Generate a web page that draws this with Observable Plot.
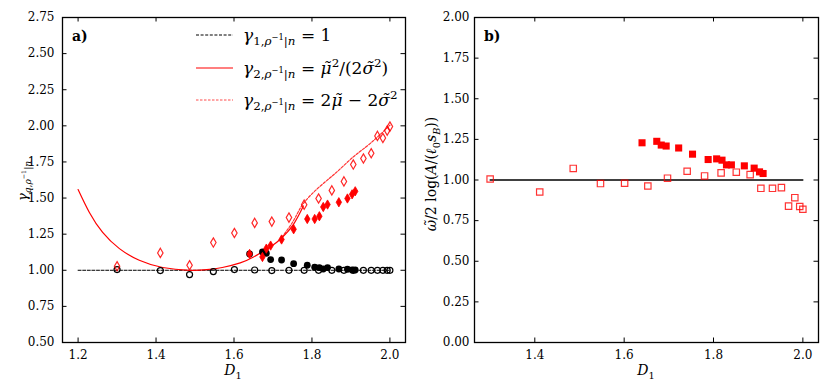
<!DOCTYPE html>
<html><head><meta charset="utf-8">
<script src="https://cdn.jsdelivr.net/npm/d3@7"></script>
<script src="https://cdn.jsdelivr.net/npm/@observablehq/plot@0.6"></script>
<style>
body{margin:0;background:#fff;}
#wrap{position:relative;width:831px;height:390px;overflow:hidden;}
#left{position:absolute;left:0;top:0;}
#right{position:absolute;left:415px;top:0;}
.lbl{position:absolute;font-family:"DejaVu Serif",serif;color:#000;white-space:nowrap;line-height:1;}
.rot{transform:translate(-50%,-50%) rotate(-90deg);}
.ctr{transform:translate(-50%,-50%);}
sub,sup{font-size:70%;line-height:0;}
.leg{position:absolute;left:196px;top:20px;font-family:"DejaVu Serif",serif;font-size:17px;}
.leg .row{position:absolute;left:0;white-space:nowrap;height:22px;}
.leg svg{position:absolute;left:0;top:0;}
.leg .t{position:absolute;left:47px;top:0;line-height:22px;}
</style></head><body>
<div id="wrap">
  <div id="left"></div>
  <div id="right"></div>
  <div class="lbl" style="left:72px;top:29px;font-size:14px;font-weight:bold;">a)</div>
  <div class="lbl" style="left:484px;top:29px;font-size:14px;font-weight:bold;">b)</div>
  <div class="lbl rot" style="left:22px;top:181px;font-size:13px;"><i>γ</i><sub><i>q</i>,<i>ρ</i><sup>−1</sup>|<i>n</i></sub></div>
  <div class="lbl rot" style="left:431px;top:174px;font-size:14px;"><i>ω̃</i>/2 log(<i>A</i>/(<i>ℓ</i><sub>0</sub><i>s</i><sub><i>B</i></sub>))</div>
  <div class="lbl ctr" style="left:233px;top:370px;font-size:14px;"><i>D</i><sub>1</sub></div>
  <div class="lbl ctr" style="left:646px;top:370px;font-size:14px;"><i>D</i><sub>1</sub></div>
  <div class="leg">
    <div class="row" style="top:4px;"><svg width="40" height="22"><line x1="0" x2="37" y1="11" y2="11" stroke="#000" stroke-width="1" stroke-dasharray="3,1.6"/></svg><div class="t"><i>γ</i><sub>1,<i>ρ</i><sup>−1</sup>|<i>n</i></sub> = 1</div></div>
    <div class="row" style="top:37px;"><svg width="40" height="22"><line x1="0" x2="37" y1="11" y2="11" stroke="#ff0000" stroke-width="1.2"/></svg><div class="t"><i>γ</i><sub>2,<i>ρ</i><sup>−1</sup>|<i>n</i></sub> = <i>μ̃</i><sup>2</sup>/(2<i>σ̃</i><sup>2</sup>)</div></div>
    <div class="row" style="top:69px;"><svg width="40" height="22"><line x1="0" x2="37" y1="11" y2="11" stroke="#ff0000" stroke-opacity="0.7" stroke-width="1.2" stroke-dasharray="2.5,1.5"/></svg><div class="t"><i>γ</i><sub>2,<i>ρ</i><sup>−1</sup>|<i>n</i></sub> = 2<i>μ̃</i> − 2<i>σ̃</i><sup>2</sup></div></div>
  </div>
</div>
<script>
// ---------- data ----------
const D_all = [1.300,1.411,1.486,1.547,1.601,1.653,1.697,1.741,1.780,1.817,1.851,1.882,1.906,1.932,1.952,1.968,1.982,1.993,2.000];
const gamma1Open = [1.005,0.998,0.970,0.991,1.005,1.002,0.998,1.000,1.000,1.000,1.000,1.000,1.000,1.000,1.000,1.000,1.000,1.000,1.000];
const gamma2Open = [1.028,1.120,1.035,1.192,1.258,1.328,1.337,1.365,1.454,1.497,1.553,1.615,1.732,1.774,1.810,1.930,1.916,1.967,1.995];
const omegaOpen  = [1.006,0.926,1.071,0.978,0.980,0.963,1.011,1.054,1.025,1.044,1.048,1.033,0.949,0.949,0.953,0.839,0.891,0.837,0.820];

const D_fill = [1.640,1.673,1.683,1.694,1.722,1.753,1.788,1.807,1.819,1.829,1.840,1.869,1.891,1.903,1.911];
const gamma1Fill = [1.113,1.127,1.118,1.074,1.071,1.046,1.035,1.021,1.019,1.009,1.019,1.009,1.007,1.002,1.002];
const gamma2Fill = [1.113,1.092,1.150,1.171,1.213,1.284,1.355,1.355,1.374,1.438,1.455,1.471,1.497,1.526,1.547];
const omegaFill  = [1.229,1.238,1.215,1.209,1.197,1.159,1.126,1.130,1.122,1.093,1.093,1.087,1.073,1.050,1.040];

// model curves
const solidD = [1.200,1.229,1.263,1.306,1.357,1.417,1.485,1.530,1.570,1.616,1.650,1.693,1.723,1.753,1.778];
const solidG = [1.559,1.400,1.262,1.150,1.069,1.019,1.000,1.004,1.019,1.051,1.092,1.161,1.225,1.320,1.445];
const dashedD = [1.723,1.753,1.778,1.821,1.864,1.906,1.949,2.000];
const dashedG = [1.230,1.345,1.462,1.582,1.681,1.785,1.877,2.004];
const refLeftD = [1.2, 2.0], refLeftG = [1, 1];
const refRightD = [1.3, 2.0], refRightV = [1, 1];

// ticks
const xTicks = [1.2,1.4,1.6,1.8,2.0];
const yTicksLeft = [0.50,0.75,1.00,1.25,1.50,1.75,2.00,2.25,2.50,2.75];
const xTicksRight = [1.4,1.6,1.8,2.0];
const yTicksRight = [0.00,0.25,0.50,0.75,1.00,1.25,1.50,1.75,2.00];

// ---------- helpers ----------
const thinDiamond = {
  draw(ctx, size) {
    const r = Math.sqrt(size / Math.PI);
    const hh = r * 1.45, hw = r * 0.85;
    ctx.moveTo(0, -hh); ctx.lineTo(hw, 0); ctx.lineTo(0, hh); ctx.lineTo(-hw, 0); ctx.closePath();
  }
};
const pts = (xs, ys) => xs.map((x, i) => ({x, y: ys[i]}));
const fmt1 = d3.format(".1f"), fmt2 = d3.format(".2f");

function frameMarks(W, H, xt, yt, padY) {
  return [
    Plot.tickX(xt, {x: d => d, insetTop: H - 4.5, stroke: "#000", strokeWidth: 1}),
    Plot.tickX(xt, {x: d => d, insetBottom: H - 4.5, stroke: "#000", strokeWidth: 1}),
    Plot.tickY(yt, {y: d => d, insetRight: W - 4.5, stroke: "#000", strokeWidth: 1}),
    Plot.tickY(yt, {y: d => d, insetLeft: W - 4.5, stroke: "#000", strokeWidth: 1}),
    Plot.axisX({ticks: xt, tickSize: 0, tickPadding: 8, tickFormat: fmt1, label: null, fontSize: 12}),
    Plot.axisY({ticks: yt, tickSize: 0, tickPadding: padY, tickFormat: fmt2, label: null, fontSize: 12}),
    Plot.frame({stroke: "#000", strokeWidth: 1.3})
  ];
}

const style = {fontFamily: "'DejaVu Serif', serif", fontSize: "12px", background: "white", color: "black"};

// ---------- left panel ----------
const L = {width: 415, height: 390, mL: 62, mR: 10, mT: 17, mB: 48};
const left = Plot.plot({
  width: L.width, height: L.height,
  marginLeft: L.mL, marginRight: L.mR, marginTop: L.mT, marginBottom: L.mB,
  style,
  x: {domain: [1.16, 2.04]},
  y: {domain: [0.5, 2.75]},
  marks: [
    Plot.line(pts(refLeftD, refLeftG), {x: "x", y: "y", stroke: "#000", strokeWidth: 1, strokeDasharray: "3,1.6"}),
    Plot.line(pts(solidD, solidG), {x: "x", y: "y", stroke: "#ff0000", strokeWidth: 1.2, curve: "natural"}),
    Plot.line(pts(dashedD, dashedG), {x: "x", y: "y", stroke: "#ff0000", strokeOpacity: 0.8, strokeWidth: 1.2, strokeDasharray: "2.5,1.5", curve: "natural"}),
    Plot.dot(pts(D_all, gamma1Open), {x: "x", y: "y", r: 3, stroke: "#000", strokeWidth: 1.2, fill: "none"}),
    Plot.dot(pts(D_all, gamma2Open), {x: "x", y: "y", r: 3.2, symbol: thinDiamond, stroke: "#ff0000", strokeOpacity: 0.85, strokeWidth: 1.2, fill: "none"}),
    Plot.dot(pts(D_fill, gamma1Fill), {x: "x", y: "y", r: 3.4, fill: "#000", stroke: "none"}),
    Plot.dot(pts(D_fill, gamma2Fill), {x: "x", y: "y", r: 3.2, symbol: thinDiamond, fill: "#ff0000", stroke: "#ff0000", strokeWidth: 0.8}),
    ...frameMarks(L.width - L.mL - L.mR, L.height - L.mT - L.mB, xTicks, yTicksLeft, 8)
  ]
});
document.getElementById("left").append(left);

// ---------- right panel ----------
const R = {width: 416, height: 390, mL: 59, mR: 13, mT: 17, mB: 48};
const right = Plot.plot({
  width: R.width, height: R.height,
  marginLeft: R.mL, marginRight: R.mR, marginTop: R.mT, marginBottom: R.mB,
  style,
  x: {domain: [1.265, 2.035]},
  y: {domain: [0, 2]},
  marks: [
    Plot.line(pts(refRightD, refRightV), {x: "x", y: "y", stroke: "#000", strokeWidth: 1.3}),
    Plot.dot(pts(D_all, omegaOpen), {x: "x", y: "y", r: 3.6, symbol: "square", stroke: "#ff0000", strokeOpacity: 0.8, strokeWidth: 1.2, fill: "none"}),
    Plot.dot(pts(D_fill, omegaFill), {x: "x", y: "y", r: 4, symbol: "square", fill: "#ff0000", stroke: "none"}),
    ...frameMarks(R.width - R.mL - R.mR, R.height - R.mT - R.mB, xTicksRight, yTicksRight, 5)
  ]
});
document.getElementById("right").append(right);
</script>
</body></html>
